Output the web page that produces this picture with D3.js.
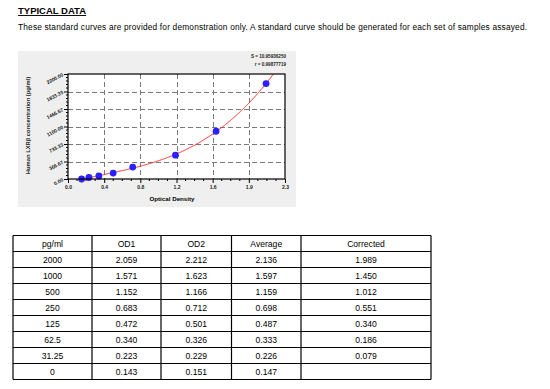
<!DOCTYPE html>
<html>
<head>
<meta charset="utf-8">
<script src="https://cdn.jsdelivr.net/npm/d3@7"></script>
<style>
  body { margin: 0; background: #fff; }
  svg { display: block; font-family: "Liberation Sans", Arial, sans-serif; }
</style>
</head>
<body>
<svg width="550" height="389"></svg>
<script>
const svg = d3.select("svg");

// standards
const conc = [2000, 1000, 500, 250, 125, 62.5, 31.25, 0];
const concLabels = ["2000", "1000", "500", "250", "125", "62.5", "31.25", "0"];
const od1 = ["2.059", "1.571", "1.152", "0.683", "0.472", "0.340", "0.223", "0.143"];
const od2 = ["2.212", "1.623", "1.166", "0.712", "0.501", "0.326", "0.229", "0.151"];
const average = [2.136, 1.597, 1.159, 0.698, 0.487, 0.333, 0.226, 0.147];
const corrected = ["1.989", "1.450", "1.012", "0.551", "0.340", "0.186", "0.079", ""];

const xTickLabels = ["0.0", "0.4", "0.8", "1.2", "1.6", "1.9", "2.3"];
const yTickLabels = ["0.00", "366.67", "733.33", "1100.00", "1466.67", "1833.33", "2200.00"];
const fitStats = ["S = 10.95936250", "r = 0.99877719"];

// header text
svg.append("text")
    .attr("x", 18).attr("y", 14)
    .attr("font-size", 9.5).attr("font-weight", "bold")
    .attr("text-decoration", "underline")
    .text("TYPICAL DATA ");
svg.append("text")
    .attr("x", 18).attr("y", 30)
    .attr("font-size", 8.3)
    .attr("textLength", 509)
    .text("These standard curves are provided for demonstration only. A standard curve should be generated for each set of samples assayed.");

// chart panel
svg.append("rect")
    .attr("x", 18).attr("y", 51)
    .attr("width", 278).attr("height", 156)
    .attr("fill", "#efefef");

const plot = {left: 68, top: 74, right: 285, bottom: 179};

const x = d3.scaleLinear().domain([0, 2.34]).range([plot.left, plot.right]);
const y = d3.scaleLinear().domain([0, 2200]).range([plot.bottom, plot.top]);

const xTicks = d3.range(xTickLabels.length).map(i => 2.34 * i / (xTickLabels.length - 1));
const yTicks = d3.range(yTickLabels.length).map(i => 2200 * i / (yTickLabels.length - 1));

svg.append("rect")
    .attr("x", plot.left).attr("y", plot.top)
    .attr("width", plot.right - plot.left).attr("height", plot.bottom - plot.top)
    .attr("fill", "#fff");

// grid
const grid = svg.append("g")
    .attr("stroke", "#7a7a7a")
    .attr("stroke-width", 1)
    .attr("stroke-dasharray", "5,3");
grid.selectAll(".gx")
    .data(xTicks.slice(1, -1))
    .enter().append("line")
        .attr("x1", d => Math.round(x(d)) + 0.5)
        .attr("x2", d => Math.round(x(d)) + 0.5)
        .attr("y1", plot.top)
        .attr("y2", plot.bottom);
grid.selectAll(".gy")
    .data(yTicks.slice(1, -1))
    .enter().append("line")
        .attr("y1", d => Math.round(y(d)) + 0.5)
        .attr("y2", d => Math.round(y(d)) + 0.5)
        .attr("x1", plot.left)
        .attr("x2", plot.right);

// minor ticks
const xMinor = [];
for (let i = 0; i < xTicks.length - 1; i++)
    for (let j = 1; j < 4; j++) xMinor.push(xTicks[i] + (xTicks[i + 1] - xTicks[i]) * j / 4);
const yMinor = [];
for (let i = 0; i < yTicks.length - 1; i++)
    for (let j = 1; j < 5; j++) yMinor.push(yTicks[i] + (yTicks[i + 1] - yTicks[i]) * j / 5);

// axes
const xAxis = svg.append("g")
    .attr("transform", `translate(0,${plot.bottom})`)
    .call(d3.axisBottom(x).tickValues(xTicks).tickSize(4).tickFormat((d, i) => xTickLabels[i]));
xAxis.append("g")
    .selectAll("line")
    .data(xMinor)
    .enter().append("line")
        .attr("x1", d => x(d)).attr("x2", d => x(d))
        .attr("y1", 0).attr("y2", 2)
        .attr("stroke", "#000");

const yAxis = svg.append("g")
    .attr("transform", `translate(${plot.left},0)`)
    .call(d3.axisLeft(y).tickValues(yTicks).tickSize(4).tickFormat((d, i) => yTickLabels[i]));
yAxis.append("g")
    .selectAll("line")
    .data(yMinor)
    .enter().append("line")
        .attr("y1", d => y(d)).attr("y2", d => y(d))
        .attr("x1", 0).attr("x2", -2)
        .attr("stroke", "#000");

[xAxis, yAxis].forEach(a => {
    a.select(".domain").remove();
    a.selectAll(".tick line").attr("stroke", "#000");
    a.selectAll(".tick text")
        .attr("font-size", 5)
        .attr("font-weight", "bold")
        .attr("fill", "#222")
        .attr("font-family", "Liberation Sans, Arial, sans-serif");
});
xAxis.selectAll(".tick text").attr("dy", "0.9em").attr("y", 5);
yAxis.selectAll(".tick text")
    .attr("text-anchor", "end")
    .attr("dy", "0.3em")
    .attr("transform", "translate(-5,0) rotate(-28)")
    .attr("x", 0);

// least-squares cubic of concentration against OD
function polyFit(xs, ys, deg) {
    const n = deg + 1;
    const A = d3.range(n).map(() => new Array(n + 1).fill(0));
    xs.forEach((xv, k) => {
        for (let i = 0; i < n; i++) {
            for (let j = 0; j < n; j++) A[i][j] += Math.pow(xv, i + j);
            A[i][n] += ys[k] * Math.pow(xv, i);
        }
    });
    for (let i = 0; i < n; i++) {
        let p = i;
        for (let r = i + 1; r < n; r++) if (Math.abs(A[r][i]) > Math.abs(A[p][i])) p = r;
        [A[i], A[p]] = [A[p], A[i]];
        for (let r = 0; r < n; r++) {
            if (r === i) continue;
            const f = A[r][i] / A[i][i];
            for (let c = i; c <= n; c++) A[r][c] -= f * A[i][c];
        }
    }
    return d3.range(n).map(i => A[i][n] / A[i][i]);
}
const coef = polyFit(average, conc, 3);
const fitY = v => coef.reduce((s, c, i) => s + c * Math.pow(v, i), 0);
const fitX = d3.range(0.1, 2.34, 0.005).filter(v => fitY(v) >= -20 && fitY(v) <= 2200);

svg.append("defs").append("clipPath").attr("id", "clip")
    .append("rect")
        .attr("x", plot.left).attr("y", plot.top)
        .attr("width", plot.right - plot.left).attr("height", plot.bottom - plot.top);

svg.append("path")
    .datum(fitX)
    .attr("clip-path", "url(#clip)")
    .attr("fill", "none")
    .attr("stroke", "#ff2020")
    .attr("stroke-width", 1)
    .attr("d", d3.line().x(d => x(d)).y(d => y(fitY(d))));

svg.append("g")
    .selectAll("circle")
    .data(average)
    .enter().append("circle")
        .attr("cx", d => x(d))
        .attr("cy", (d, i) => y(conc[i]))
        .attr("r", 3.4)
        .attr("fill", "#2a1fff");

// plot frame
svg.append("rect")
    .attr("x", plot.left).attr("y", plot.top)
    .attr("width", plot.right - plot.left).attr("height", plot.bottom - plot.top)
    .attr("fill", "none").attr("stroke", "#000").attr("stroke-width", 1.2);

// fit statistics
svg.append("g")
    .selectAll("text")
    .data(fitStats)
    .enter().append("text")
        .attr("x", 286)
        .attr("y", (d, i) => 58 + i * 8)
        .attr("text-anchor", "end")
        .attr("font-size", 4.6)
        .attr("font-weight", "bold")
        .attr("fill", "#222")
        .text(d => d);

// axis titles
svg.append("text")
    .attr("x", 172).attr("y", 201)
    .attr("text-anchor", "middle")
    .attr("font-size", 6.2)
    .attr("font-weight", "bold")
    .text("Optical Density");
svg.append("text")
    .attr("transform", `translate(30,${(plot.top + plot.bottom) / 2 - 1}) rotate(-90)`)
    .attr("text-anchor", "middle")
    .attr("font-size", 5.8)
    .attr("font-weight", "bold")
    .attr("fill", "#222")
    .text("Human LXRβ concentration (pg/ml)");

// table
const columns = ["pg/ml", "OD1", "OD2", "Average", "Corrected"];
const colEdges = [13, 92, 161, 231.5, 301, 431];
const tableTop = 235.5, rowH = 16;
const rows = conc.map((c, i) => [concLabels[i], od1[i], od2[i], average[i].toFixed(3), corrected[i]]);
const allRows = [columns].concat(rows);

const table = svg.append("g").attr("font-size", 8.6).attr("fill", "#000");
allRows.forEach((row, r) => {
    row.forEach((cell, c) => {
        table.append("text")
            .attr("x", (colEdges[c] + colEdges[c + 1]) / 2)
            .attr("y", tableTop + r * rowH + rowH / 2 + 3)
            .attr("text-anchor", "middle")
            .text(cell);
    });
});
const lines = svg.append("g").attr("stroke", "#000").attr("stroke-width", 1.2);
d3.range(allRows.length + 1).forEach(r => {
    lines.append("line")
        .attr("x1", colEdges[0]).attr("x2", colEdges[colEdges.length - 1])
        .attr("y1", tableTop + r * rowH).attr("y2", tableTop + r * rowH);
});
colEdges.forEach(cx => {
    lines.append("line")
        .attr("x1", cx).attr("x2", cx)
        .attr("y1", tableTop).attr("y2", tableTop + allRows.length * rowH);
});
</script>
</body>
</html>
